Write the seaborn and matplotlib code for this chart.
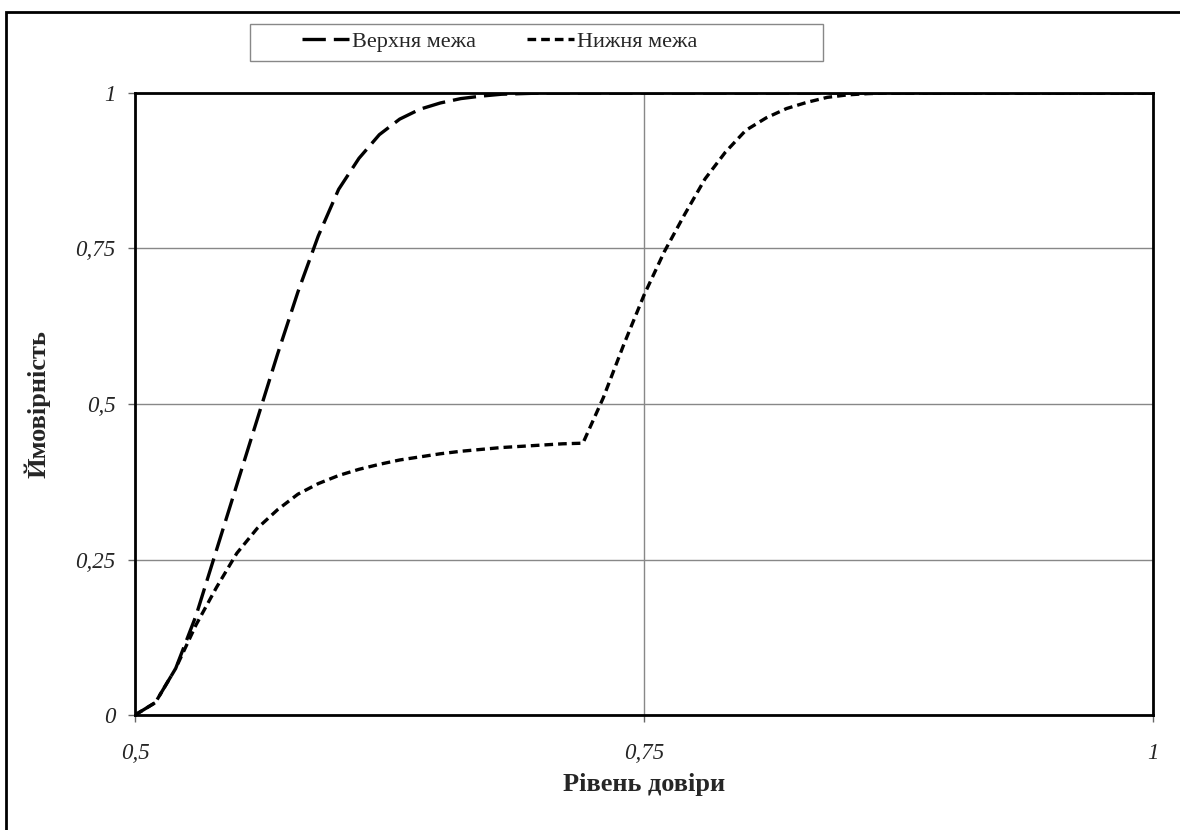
import numpy as np
import pandas as pd
import matplotlib
matplotlib.use("Agg")
import matplotlib.pyplot as plt
from matplotlib.lines import Line2D
from matplotlib.patches import Rectangle
import seaborn as sns

# ---- data ----
confidence = [0.50, 0.51, 0.52, 0.53, 0.54, 0.55, 0.56, 0.57, 0.58, 0.59,
              0.60, 0.61, 0.62, 0.63, 0.64, 0.65, 0.66, 0.67, 0.68, 0.69,
              0.70, 0.71, 0.72, 0.73, 0.74, 0.75, 0.76, 0.77, 0.78, 0.79,
              0.80, 0.81, 0.82, 0.83, 0.84, 0.85, 0.86, 0.87, 0.88, 0.89,
              0.90, 0.91, 0.92, 0.93, 0.94, 0.95, 0.96, 0.97, 0.98, 0.99, 1.00]
upper = [0.000, 0.020, 0.075, 0.160, 0.265, 0.370, 0.475, 0.580, 0.680, 0.770,
         0.845, 0.895, 0.933, 0.958, 0.974, 0.984, 0.991, 0.995, 0.998, 0.999,
         1.000, 1.000, 1.000, 1.000, 1.000, 1.000, 1.000, 1.000, 1.000, 1.000,
         1.000, 1.000, 1.000, 1.000, 1.000, 1.000, 1.000, 1.000, 1.000, 1.000,
         1.000, 1.000, 1.000, 1.000, 1.000, 1.000, 1.000, 1.000, 1.000, 1.000, 1.000]
lower = [0.000, 0.020, 0.075, 0.145, 0.205, 0.260, 0.300, 0.330, 0.355, 0.372,
         0.385, 0.395, 0.403, 0.410, 0.415, 0.420, 0.424, 0.427, 0.430, 0.432,
         0.434, 0.436, 0.437, 0.510, 0.595, 0.675, 0.745, 0.805, 0.862, 0.905,
         0.940, 0.960, 0.975, 0.985, 0.993, 0.997, 0.999, 1.000, 1.000, 1.000,
         1.000, 1.000, 1.000, 1.000, 1.000, 1.000, 1.000, 1.000, 1.000, 1.000, 1.000]
series_names = ["Верхня межа", "Нижня межа"]
x_ticks = [0.5, 0.75, 1.0]
x_ticklabels = ["0,5", "0,75", "1"]
y_ticks = [0, 0.25, 0.5, 0.75, 1.0]
y_ticklabels = ["0", "0,25", "0,5", "0,75", "1"]
x_label = "Рівень довіри"
y_label = "Ймовірність"

df = pd.DataFrame({
    "x": confidence * 2,
    "y": upper + lower,
    "series": [series_names[0]] * len(confidence) + [series_names[1]] * len(confidence),
})

sns.set_style("white")
plt.rcParams["font.family"] = ["Liberation Serif", "DejaVu Serif"]

fig = plt.figure(figsize=(11.8, 8.3), dpi=100)
ax = fig.add_axes([135 / 1180, 1 - 715 / 830, (1153 - 135) / 1180, (715 - 93) / 830])

dash_map = {series_names[0]: (7, 2.4), series_names[1]: (2.6, 1.5)}
sns.lineplot(data=df, x="x", y="y", style="series", dashes=dash_map,
             color="black", linewidth=2.4, legend=False, ax=ax, sort=False)

ax.set_xlim(0.5, 1.0)
ax.set_ylim(0, 1.0)
ax.set_xticks(x_ticks)
ax.set_xticklabels(x_ticklabels, fontstyle="italic", fontsize=16.5)
ax.set_yticks(y_ticks)
ax.set_yticklabels(y_ticklabels, fontstyle="italic", fontsize=16.5)
ax.tick_params(axis="x", direction="out", length=5, width=1, color="#666666",
               pad=15, bottom=True)
ax.tick_params(axis="y", direction="out", length=5, width=1, color="#666666",
               pad=9, left=True)
ax.grid(True, color="#888888", linewidth=1)
ax.set_axisbelow(True)
for s in ax.spines.values():
    s.set_visible(True)
    s.set_color("black")
    s.set_linewidth(2)

ax.set_xlabel(x_label, fontsize=19, fontweight="bold")
ax.set_ylabel(y_label, fontsize=19, fontweight="bold")
ax.xaxis.set_label_coords(0.5, -0.094)
ax.yaxis.set_label_coords(-0.083, 0.5)

# legend
handles = [Line2D([], [], color="black", linewidth=2.4, dashes=dash_map[n]) for n in series_names]
fig.legend(handles, series_names, loc="center", bbox_to_anchor=(500 / 1180, 1 - 42 / 830),
           ncol=2, frameon=False, fontsize=16, handlelength=2.1, handletextpad=0.15,
           columnspacing=2.3)
fig.patches.append(Rectangle((250 / 1180, 1 - 61 / 830), (823 - 250) / 1180, 37 / 830,
                             transform=fig.transFigure, fill=False, edgecolor="#888888",
                             linewidth=1))
# outer chart border
fig.patches.append(Rectangle((6 / 1180, -0.05), 1.2, 1 - 12 / 830 + 0.05,
                             transform=fig.transFigure, fill=False, edgecolor="black",
                             linewidth=2))

fig.savefig("out.png", dpi=100)
